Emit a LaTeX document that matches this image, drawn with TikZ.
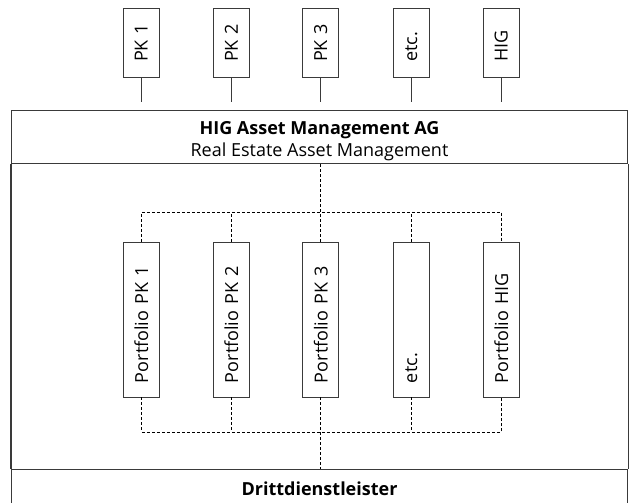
\documentclass[tikz,border=0pt]{standalone}
\usepackage{fontspec}
\setmainfont{Open Sans}
\usepackage{tikz}
\usetikzlibrary{positioning}
\definecolor{rahmen}{HTML}{3A3A3A}

\begin{document}
\begin{tikzpicture}[
  x=1pt, y=-1pt,
  font=\fontsize{18}{22}\selectfont,
  pkbox/.style={draw=rahmen, line width=0.9pt, rotate=90,
                minimum height=36pt, inner xsep=15pt, inner ysep=0pt,
                text width=39pt, align=left},
  pfbox/.style={pkbox, inner xsep=14pt, text width=127pt},
  level/.style={draw=rahmen, line width=1.1pt, minimum width=616pt,
                inner sep=0pt, align=center},
  side/.style={draw=rahmen, line width=1.1pt},
  stem/.style={draw=rahmen, line width=0.9pt},
  bus/.style={draw=black, line width=0.8pt, dash pattern=on 3pt off 2pt}
]
  \clip (0,0) rectangle (635,503);

  % Pensionskassen oben
  \node[pkbox] (pk1) at (141.3,42.5) {PK 1};
  \node[pkbox] (pk2) at (231.3,42.5) {PK 2};
  \node[pkbox] (pk3) at (320.8,42.5) {PK 3};
  \node[pkbox] (pketc) at (411.3,42.5) {etc.};
  \node[pkbox] (pkhig) at (501.2,42.5) {HIG};
  \draw[stem] (pk1.west) -- ++(0,25);
  \draw[stem] (pk2.west) -- ++(0,25);
  \draw[stem] (pk3.west) -- ++(0,25);
  \draw[stem] (pketc.west) -- ++(0,25);
  \draw[stem] (pkhig.west) -- ++(0,25);

  % Rahmen
  \node[level, minimum height=53pt] (amg) at (319.5,137.2)
    {\rule{0pt}{20pt}\textbf{HIG Asset Management AG}\\Real Estate Asset Management};
  \node[level, minimum height=39pt, anchor=north] (dritt) at (319.5,468.5)
    {\textbf{Drittdienstleister}};
  \draw[side] (amg.south west) -- (dritt.north west);
  \draw[side] (amg.south east) -- (dritt.north east);

  % Portfolios
  \node[pfbox] (pf1) at (141.3,319.5) {Portfolio PK 1};
  \node[pfbox] (pf2) at (231.3,319.5) {Portfolio PK 2};
  \node[pfbox] (pf3) at (320.8,319.5) {Portfolio PK 3};
  \node[pfbox] (pfetc) at (411.3,319.5) {etc.};
  \node[pfbox] (pfhig) at (501.2,319.5) {Portfolio HIG};

  \coordinate (bustop) at (320.8,212);
  \coordinate (busbot) at (320.8,432);
  \draw[bus] (pf3.east |- amg.south) -- (pf3.east);
  \draw[bus] (pf1.east) -- (pf1.east |- bustop) -- (pfhig.east |- bustop) -- (pfhig.east);
  \draw[bus] (pf2.east) -- (pf2.east |- bustop);
  \draw[bus] (pfetc.east) -- (pfetc.east |- bustop);
  \draw[bus] (pf3.west) -- (pf3.west |- dritt.north);
  \draw[bus] (pf1.west) -- (pf1.west |- busbot) -- (pfhig.west |- busbot) -- (pfhig.west);
  \draw[bus] (pf2.west) -- (pf2.west |- busbot);
  \draw[bus] (pfetc.west) -- (pfetc.west |- busbot);
\end{tikzpicture}
\end{document}
